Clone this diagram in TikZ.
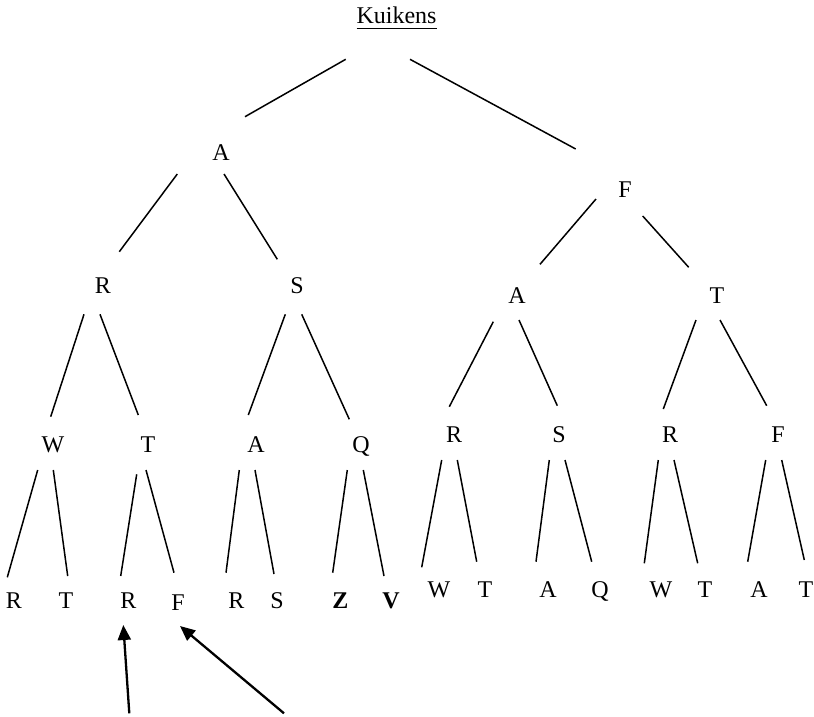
\documentclass[tikz,border=0pt]{standalone}
\usepackage{fontspec}
\setmainfont{Liberation Serif}
\usetikzlibrary{calc,arrows.meta}
\newcommand{\ulword}[1]{\setbox0\hbox{#1}\rlap{\rule[-5.5pt]{\wd0}{1.3pt}}\box0}
\newcommand{\treeline}[6]{\draw[branch] ($(#1.base)+(#2,#3)$) -- ($(#4.base)+(#5,#6)$);}
\begin{document}
\begin{tikzpicture}[x=1pt,y=-1pt,
  lbl/.style={anchor=base,inner sep=0pt,font=\fontsize{24}{28}\selectfont},
  branch/.style={line width=1.5pt},
  pointer/.style={line width=2.3pt,-{Triangle[length=15pt,width=13pt]}}]
\useasboundingbox (0,0) rectangle (814,716);
% level 0
\node[lbl] (K) at (396.5,23.3) {\ulword{Kuikens}};
% level 1
\node[lbl] (A1) at (221,160) {A};
\node[lbl] (F1) at (625,197) {F};
% level 2
\node[lbl] (R2) at (103,293) {R};
\node[lbl] (S2) at (297,293) {S};
\node[lbl] (A2) at (517,303) {A};
\node[lbl] (T2) at (717,303) {T};
% level 3
\node[lbl] (W3) at (53,452) {W};
\node[lbl] (T3) at (148,452) {T};
\node[lbl] (A3) at (256,452) {A};
\node[lbl] (Q3) at (361,452) {Q};
\node[lbl] (R3) at (454,442) {R};
\node[lbl] (S3) at (559,442) {S};
\node[lbl] (R3b) at (670,442) {R};
\node[lbl] (F3) at (778,442) {F};
% level 4
\node[lbl] (b1) at (14,608) {R};
\node[lbl] (b2) at (66,608) {T};
\node[lbl] (b3) at (128.5,608) {R};
\node[lbl] (b4) at (178,610) {F};
\node[lbl] (b5) at (236.5,608) {R};
\node[lbl] (b6) at (277,608) {S};
\node[lbl] (b7) at (340.5,608) {\textbf{Z}};
\node[lbl] (b8) at (391,608) {\textbf{V}};
\node[lbl] (b9) at (439,597) {W};
\node[lbl] (b10) at (485,597) {T};
\node[lbl] (b11) at (548,597) {A};
\node[lbl] (b12) at (600,597) {Q};
\node[lbl] (b13) at (661,597) {W};
\node[lbl] (b14) at (705,597) {T};
\node[lbl] (b15) at (759,597) {A};
\node[lbl] (b16) at (806,597) {T};
% branches
\treeline{K}{-50.8}{36}{A1}{24}{-43.3}
\treeline{K}{13.5}{36}{F1}{-49.3}{-48}
\treeline{A1}{-43.7}{14}{R2}{16.3}{-41.3}
\treeline{A1}{3}{14}{S2}{-19.7}{-33.7}
\treeline{F1}{-29}{2}{A2}{23}{-38.7}
\treeline{F1}{17.7}{19}{T2}{-28.3}{-35.7}
\treeline{R2}{-19}{21.3}{W3}{-2.3}{-35.3}
\treeline{R2}{-3}{21.3}{T3}{-9.7}{-37}
\treeline{S2}{-11.7}{21.3}{A3}{-7.7}{-37}
\treeline{S2}{4.7}{21.3}{Q3}{-11.7}{-32.7}
\treeline{A2}{-23.7}{18.7}{R3}{-4.7}{-35.3}
\treeline{A2}{2}{17}{S3}{-1.7}{-36.3}
\treeline{T2}{-21}{17}{R3b}{-6.7}{-33}
\treeline{T2}{3}{17}{F3}{-11.3}{-36.3}
\treeline{W3}{-15.3}{18}{b1}{-6.7}{-30.7}
\treeline{W3}{0.3}{18}{b2}{1.7}{-32}
\treeline{T3}{-11.3}{22.3}{b3}{-7.8}{-32}
\treeline{T3}{-2}{18}{b4}{-4}{-37.3}
\treeline{A3}{-16.7}{18}{b5}{-10.5}{-35.3}
\treeline{A3}{-1}{18}{b6}{-3}{-34}
\treeline{Q3}{-13.7}{18}{b7}{-7.8}{-35.3}
\treeline{Q3}{2.3}{18}{b8}{-7}{-32}
\treeline{R3}{-12.3}{18}{b9}{-17.3}{-29.7}
\treeline{R3}{3.3}{18}{b10}{-8.3}{-35.3}
\treeline{S3}{-9.7}{18}{b11}{-12}{-35.3}
\treeline{S3}{6}{18}{b12}{-8.3}{-35.3}
\treeline{R3b}{-11.7}{18}{b13}{-16.7}{-33.7}
\treeline{R3b}{4}{18}{b14}{-7.3}{-33.7}
\treeline{F3}{-12.3}{18}{b15}{-11.3}{-35.3}
\treeline{F3}{3.7}{18}{b16}{-1.7}{-37}
% pointers
\coordinate (p1) at (129.3,713.3);
\coordinate (p2) at (284,713.3);
\draw[pointer] (p1) -- ($(b3.base)+(-5.2,17)$);
\draw[pointer] (p2) -- ($(b4.base)+(2,16)$);
\end{tikzpicture}
\end{document}
